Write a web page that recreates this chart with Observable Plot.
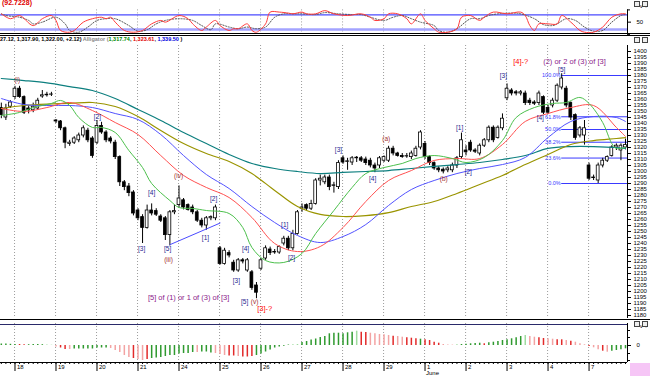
<!DOCTYPE html>
<html><head><meta charset="utf-8">
<script src="https://cdn.jsdelivr.net/npm/d3@7"></script>
<script src="https://cdn.jsdelivr.net/npm/@observablehq/plot@0.6"></script>
<style>
body{margin:0;background:#fff;font-family:"Liberation Sans",Arial,sans-serif}
#wrap{position:relative;width:650px;height:376px;overflow:hidden;background:#fff}
.pane{position:absolute;left:0}
.hl{position:absolute;left:0;width:650px;height:1px;background:#000}
.txt{position:absolute;white-space:nowrap}
.ico{position:absolute;width:4px;height:4px;border:1px solid #444;background:#eee}
</style></head><body><div id="wrap"></div>
<script>
// ---------- data ----------
const dayIdx = [3,12,21,30,39,48,57,66,75,84,93,102,111,120,129];
const dayLabels = ["18","19","20","21","24","25","26","27","28","29","1","2","3","4","7"];

const open = [1353,1345,1354,1362,1369,1362,1352.5,1351,1352.5,1362.5,
1363.5,1364,1342.5,1341.7,1336,1323,1324,1326,1330,1334,
1327.5,1324,1338,1332.5,1327.5,1324,1312,1291,1287.5,1282.5,
1267.5,1262,1253,1267.5,1267,1262.5,1261,1247,1266,1272,
1276,1272,1270,1266,1259,1255,1261,1261,1236,1223,
1232,1224,1217.5,1226,1217.5,1216,1205,1219,1227.5,1235,
1233,1232.5,1240,1244,1236,1248,1269,1272,1269,1273,
1292.5,1291,1295,1288,1287,1311,1308,1307.5,1311,1311,
1310,1309,1305,1305,1309,1309,1319,1315,1313,1312.5,
1312,1313,1320,1323,1312,1307,1302.5,1301.5,1301,1301,
1305,1312,1317.5,1324,1317.5,1315,1321.5,1326,1336.5,1328,
1336,1361,1367.5,1366,1365,1365,1359,1357.5,1357,1362,
1353,1355,1359,1370,1369,1357,1347,1330,1330,1305,
1295,1292.5,1305,1309,1313,1320,1317.5,1320];
const high = [1357,1356,1359,1371,1371,1363,1355,1357,1361,1367.5,
1366,1366,1343.3,1342.5,1337,1326,1329,1332,1338,1336,
1329,1342.5,1341,1334,1329,1326,1313,1292.5,1290,1284,
1269,1264,1272,1273,1269,1264,1262.5,1267.5,1272,1288,
1277.5,1273,1272,1267.5,1261,1262.5,1263,1272,1237.5,1236,
1234,1226,1227.5,1227.5,1227.5,1217.5,1207.5,1227.5,1238,1237,
1235,1238,1246,1246,1251,1267.5,1273,1273,1276,1294,
1297,1297,1297,1291,1309,1313,1311,1312.5,1312.5,1312.5,
1312,1311,1307,1312.5,1313,1321,1321,1316,1315,1315,
1317,1321,1334,1325,1313,1308,1304,1303,1304,1307,
1312.5,1332,1321.5,1326,1319,1323,1327.5,1338,1338,1338,
1348,1373,1369,1367.5,1367.5,1367,1361,1359,1367,1363,
1355,1361,1373,1381.5,1371,1358,1348,1337.5,1342.5,1307,
1297,1307,1311,1313,1321.5,1323,1323,1327];
const low = [1344,1342.5,1352.5,1360,1361,1347.5,1348,1349,1351,1361,
1362,1362.5,1340,1334,1319,1321,1322.5,1324,1328,1324,
1311,1322.5,1331,1324,1323,1310,1287.5,1284,1279,1263,
1259,1240,1252,1263,1262.5,1257.5,1242.5,1238,1264,1270,
1268,1267,1264,1257.5,1253,1251,1259,1259,1222,1222,
1228,1216,1216,1223,1216,1201,1194,1217.5,1226,1230,
1231,1231,1238,1234,1234,1247,1266,1267.5,1267.5,1272,
1288,1289,1284,1282,1285,1306,1301,1305,1307.5,1307.5,
1305,1303,1299,1302.5,1307.5,1307.5,1313,1312,1311,1311,
1310,1312,1318,1310,1305,1301,1299,1298,1299,1299,
1302.5,1310,1313,1316,1315,1313,1320,1324,1324,1327,
1334,1359,1363,1363,1363,1355,1355,1355,1355,1347.5,
1347.5,1353,1357.5,1368,1353,1342.5,1326,1328,1322,1292.5,
1292.5,1290,1303,1307.5,1312,1317.5,1309,1318];
const close = [1347,1352.5,1357.5,1369,1362,1349,1351,1354,1359,1363.5,
1364,1364.2,1341.7,1336,1324,1324,1327.5,1330,1336,1326,
1313,1338,1332.5,1326,1325,1312,1291,1287,1282,1265,
1261,1253,1267.5,1265,1264,1259,1247,1266,1267,1277.5,
1270,1268,1266,1259,1255,1261,1262,1270,1223,1234,
1230,1217.5,1226,1225,1226,1203,1199,1226,1236,1232,
1232.5,1237,1244,1236,1248,1266,1270,1269,1273,1292.5,
1294,1295,1287,1288.5,1307,1307.5,1308.5,1311,1311.5,1309,
1307,1305,1302.5,1311,1312,1319,1315,1313,1312,1312.8,
1315,1319,1332.5,1312,1307,1302.5,1301,1300,1302.5,1305,
1311,1326,1316,1317.5,1316.5,1321.5,1326,1336.5,1326,1336.5,
1344,1369,1365,1365,1366,1357,1357,1356.5,1365,1349,
1349,1359,1371.5,1377.5,1355,1345,1328,1336,1336,1294,
1294.5,1305,1309,1312,1320,1321.5,1321.5,1322];

// moving averages (sampled every 5 bars)
const maIdx = [0,5,10,15,20,25,30,35,40,45,50,55,60,65,70,75,80,85,90,95,100,105,110,115,120,125,130,135,137];
const maTeal = [1377.5,1375.8,1373.8,1370.8,1367.5,1360.8,1351.7,1342.5,1332.5,1323.3,1314.2,1306.7,1302.5,1300,1298.3,1299.2,1300,1300.8,1302.5,1304.2,1305.8,1307.5,1310,1313.3,1319.2,1320.8,1320.8,1320,1319.2];
const maOlive = [1352.5,1355,1356.2,1356.7,1357.5,1354.2,1345.8,1334.2,1323.3,1315,1308.3,1298.3,1284.2,1270.8,1264.2,1262.5,1263.3,1265.8,1270.8,1275,1281.7,1289.2,1296.7,1305.8,1314.2,1322.5,1325.8,1327.5,1328.3];
const maBlue = [1360.8,1355.8,1355,1355,1353.3,1348.3,1343.3,1330.8,1313.3,1297.5,1285.8,1270.8,1257.5,1246.7,1240.8,1245.8,1255.8,1271.7,1285,1292.5,1298.3,1302.5,1305.8,1311.7,1328.3,1341.7,1345.8,1345,1341.7];
const maRed = [1352.5,1350,1353.3,1357.5,1350.8,1340.8,1330.8,1313.3,1296.7,1286.7,1278.3,1261.7,1240,1233.3,1237.5,1253.3,1275,1292.5,1300.8,1309.2,1310.8,1310.8,1322.5,1341.7,1348.3,1353.3,1355,1336.7,1329.2];
const greenIdx = [0,4,7,11,13,15,17,20,22,25,28,31,33,37,39,42,45,50,53,55,58,62,66,69,73,77,80,84,88,91,95,99,102,106,110,113,117,121,124,127,129,132,134,135,137];
const maGreen = [1346.7,1349.2,1353.3,1356.7,1359.2,1355,1345,1336.7,1336.7,1332.5,1317.5,1303.3,1290,1275.8,1270,1269.2,1267.5,1265,1253.3,1236.7,1225.8,1224.2,1231.7,1248.3,1267.5,1286.7,1298.3,1303.3,1306.7,1310.8,1313.3,1310.8,1307.5,1311.7,1325.8,1345,1353.3,1356.7,1357.5,1361.7,1356.7,1340.8,1323.3,1319.2,1320];

// fibonacci retracement
const fibPct = ["100.0%","61.8%","50.0%","38.2%","23.6%","0.0%"];
const fibPrice = [1380,1345.6,1335,1324.4,1311.2,1290];
const fibStart = 123;

// trend line
const trendIdx = [37,48];
const trendPrice = [1239,1257];

// wave labels
const lblText = ["(i)","[2]","[3]","[4]","[5]","(iii)","(iv)","[1]","[2]","[3]","[4]","[5]","(v)","[1]","[2]","[3]","[4]","(a)","(b)","[1]","[2]","[3]","[5]","[4]"];
const lblIdx  = [3.5,21.1,30.8,33,36.5,36.7,38.9,44.8,46.6,51.6,53.6,53.4,55.6,62.2,63.7,74,81.5,84.5,97.1,100.6,102.5,110.2,123,118.3];
const lblPrice= [1376.7,1345.8,1235.8,1282.5,1235.8,1226.7,1296.7,1245,1277.5,1209.2,1235.8,1191.7,1191.7,1255.8,1228.3,1318.3,1294.2,1327.5,1294.2,1336.7,1300,1380,1384.3,1345];
const lblKind = ["minor","wave","wave","wave","wave","minor","minor","wave","wave","wave","wave","wave","minor","wave","wave","wave","wave","minor","minor","wave","wave","wave","wave","wave"];
const notes = [
  {t:"[3]-?", i:57.8, p:1185.8, k:"alt"},
  {t:"[5] of (1) or 1 of (3) of [3]", i:41.1, p:1195, k:"note"},
  {t:"[4]-?", i:114, p:1391.8, k:"alt"},
  {t:"(2) or 2 of (3) of [3]", i:125.8, p:1391.8, k:"note"}
];

// stochastic
const kIdx = [0,2,4,7,9,11,12,13,15,16,18,20,22,23,24,25,27,29,31,33,35,36,39,41,42,44,45,47,48,50,51,52,54,55,56,58,59,61,63,64,66,67,69,71,73,76,79,81,82,84,85,87,89,90,92,93,95,96,98,100,101,103,105,106,108,111,114,115,116,117,118,120,122,123,125,127,128,130,132,134,136,137];
const kVal = [84,64,77,36,64,77,57,16,9,16,50,64,70,64,70,50,16,9,16,43,57,50,77,64,43,16,30,57,36,16,23,23,43,16,9,43,91,91,87,84,91,84,84,97,84,77,84,70,57,64,84,84,64,43,84,57,23,9,9,23,70,77,57,70,91,84,91,77,36,16,43,43,43,77,50,16,9,9,30,70,84,84];
const dIdx = [0,1,4,6,7,9,12,14,15,17,19,21,23,25,28,30,32,34,36,39,42,44,46,47,50,52,54,56,58,60,62,64,66,69,71,74,77,79,81,84,86,88,90,92,95,96,98,100,103,105,107,109,112,114,117,119,121,122,124,126,128,130,132,134,136,137];
const dVal = [84,77,70,57,43,50,70,43,16,9,30,57,64,64,36,13,19,43,57,64,57,36,19,43,30,23,30,23,30,70,84,84,84,81,89,84,81,81,70,57,70,77,64,50,36,16,9,23,64,64,77,84,87,84,64,40,36,43,64,57,30,13,16,50,77,81];

// oscillator histogram
const aoVal = [1.5,1.5,1.2,1,1,0.8,0.8,1,1,0.8, 0.5,0.3,-1.5,-2.5,-4,-4,-3.5,-3.5,-3.5,-3.5,
-3.5,-2.5,-2.5,-2.5,-3,-5,-7,-10,-12,-13, -14,-15,-14,-13,-12.5,-12,-11,-10,-10,-8.5,
-8,-8,-7,-7,-6.5,-6.5,-7.5,-8,-9,-10, -10.5,-10.5,-11,-11.5,-11.5,-11,-10,-8.5,-6.5,-4.5,
-2.5,-1.5,-0.8,0.5,0.8,1,3,4,5.5,6.5, 8,9,
11.7,12.3,12.3,11.7,12.7,13.3,14.3,13.3,13,12.3, 11.7,11,10.7,10,9.3,9,8.3,7.7,7.3,6.7,
6.3,5.7,5,3.3,2.3,1,0.5,0.4,0.7,1, 1.3,1.7,2,2.3,1.7,2.7,3.3,4,5,5.7,
6.7,7.7,9,10,9,8.3,7.7,7,6.7,6.3, 5.7,5.7,5,4.3,3.3,1.7,0.7,-1,-2.3,-4.3,
-5.7,-6.7,-5.7,-5,-4.3,-3.3];
const aoTone = ("ggggrrggggGG"+"RrrR"+"gggggggg"+"RRRRR"+"rRRr"+"gggggggggg"+"R"+"ggg"+"RRR"+"rr"+"R"+"rrr"+
"gggggggg"+"GG"+"gggggggggggg"+"G"+"rr"+"RRRRR"+"r"+"RR"+"rrr"+"g"+"rrrr"+"RRR"+"G"+"ggggg"+"r"+"gggggggg"+"G"+
"RR"+"rr"+"RR"+"rr"+"R"+"r"+"RRR"+"r"+"RR"+"r"+"R"+"gggg").split("");

// ---------- build ----------
const xDom = [-0.18, 137.44];
const FONT = "Liberation Sans, Arial, sans-serif";
const bars = open.map((o,i)=>({i, o, h:high[i], l:low[i], c:close[i]}));
const ser = (idx, vals) => idx.map((i,k)=>({i, v:vals[k]}));
const toneColor = {g:"#2f9a2f", r:"#e22a2a", G:"#9fdc9f", R:"#f3a3a3"};
const kindColor = {wave:"#1c1c8e", minor:"#a33030", alt:"#ff0000", note:"#8a1a8a"};
const grid = () => Plot.ruleX(dayIdx, {x:d=>d-0.1, stroke:"#9c9c9c", strokeDasharray:"1,2", strokeWidth:1});
const tickMarks = (vals) => Plot.ruleY(vals, {x1:xDom[1], x2:xDom[1]+0.66, stroke:"#000", strokeWidth:1});
const common = {width:650, marginLeft:0, marginRight:23, x:{domain:xDom, axis:null},
  style:{background:"transparent", fontFamily:FONT, fontSize:"6px", color:"#000", overflow:"visible"}};

const wrap = document.getElementById("wrap");
function place(el, top){ const d=document.createElement("div"); d.className="pane"; d.style.top=top+"px"; d.appendChild(el); wrap.appendChild(d); }
function addTxt(html, left, top, css){ const d=document.createElement("div"); d.className="txt"; d.style.left=left+"px"; d.style.top=top+"px"; d.style.cssText+=css||""; d.innerHTML=html; wrap.appendChild(d); }
function addIcon(left, top){ const d=document.createElement("div"); d.className="ico"; d.style.left=left+"px"; d.style.top=top+"px"; wrap.appendChild(d); }

// top stochastic pane
const stoch = Plot.plot({...common, height:34, marginTop:9.4, marginBottom:0.1,
  y:{domain:[0,100], axis:null},
  marks:[
    grid(),
    Plot.ruleY([20], {stroke:"#a3a3ff", strokeWidth:2.5}),
    Plot.ruleY([80], {stroke:"#4b4bff", strokeWidth:1.2}),
    Plot.line(ser(dIdx,dVal), {x:"i", y:"v", stroke:"#555", strokeWidth:1, strokeDasharray:"1.2,1.6", curve:"catmull-rom"}),
    Plot.line(ser(kIdx,kVal), {x:"i", y:"v", stroke:"#ff3b3b", strokeWidth:1, curve:"catmull-rom"}),
    Plot.ruleX([xDom[1]], {stroke:"#000"}),
    tickMarks([0,100]),
    Plot.axisY([50], {anchor:"right", tickSize:3, tickPadding:6, fontSize:6, tickFormat:d=>String(d)})
  ]});
place(stoch, 0);

// price pane
const fibs = fibPct.map((t,k)=>({t, p:fibPrice[k]}));
const price = Plot.plot({...common, height:283, marginTop:10, marginBottom:0,
  y:{domain:[1177.5,1405], axis:null},
  marks:[
    grid(),
    Plot.ruleY(fibs, {y:"p", x1:fibStart, x2:xDom[1], stroke:"#3a3aff", strokeWidth:1,
      strokeDasharray:d=>(d.t==="100.0%"||d.t==="0.0%")?null:"2,2"}),
    Plot.text(fibs, {x:fibStart, y:"p", text:"t", textAnchor:"end", dx:-1, fill:"#3a3aff", fontSize:5.5}),
    Plot.ruleX(bars, {x:"i", y1:"l", y2:"h", stroke:"#000", strokeWidth:1}),
    Plot.rect(bars, {x1:d=>d.i-0.31, x2:d=>d.i+0.31, y1:"o", y2:"c",
      fill:d=>d.c>=d.o?"#fff":"#000", stroke:"#000", strokeWidth:0.8}),
    Plot.line(ser(maIdx,maTeal), {x:"i", y:"v", stroke:"#0d7f7f", strokeWidth:1.2, curve:"catmull-rom"}),
    Plot.line(ser(maIdx,maOlive), {x:"i", y:"v", stroke:"#9a9400", strokeWidth:1.2, curve:"catmull-rom"}),
    Plot.line(ser(maIdx,maBlue), {x:"i", y:"v", stroke:"#5353ff", strokeWidth:1, curve:"catmull-rom"}),
    Plot.line(ser(maIdx,maRed), {x:"i", y:"v", stroke:"#ff5050", strokeWidth:1, curve:"catmull-rom"}),
    Plot.line(ser(greenIdx,maGreen), {x:"i", y:"v", stroke:"#4cc04c", strokeWidth:1, curve:"catmull-rom"}),
    Plot.line(ser(trendIdx,trendPrice), {x:"i", y:"v", stroke:"#4b4bff", strokeWidth:1}),
    Plot.text(lblText.map((t,k)=>({t, i:lblIdx[k], p:lblPrice[k], k:lblKind[k]})),
      {x:"i", y:"p", text:"t", fill:d=>kindColor[d.k], fontSize:6.5}),
    Plot.text(notes, {x:"i", y:"p", text:"t", fill:d=>kindColor[d.k], fontSize:7.5}),
    Plot.ruleX([xDom[1]], {stroke:"#000"}),
    Plot.axisY(d3.range(1180,1401,5), {anchor:"right", tickSize:3, tickPadding:3, fontSize:6, tickFormat:d=>String(d)})
  ]});
place(price, 35);

// oscillator pane + date axis
const ao = aoVal.map((v,i)=>({i, v, t:aoTone[i]}));
const dayLabelOf = new Map(dayIdx.map((d,k)=>[d, dayLabels[k]]));
const osc = Plot.plot({...common, height:56, marginTop:3, marginBottom:14,
  y:{domain:[-17,22], axis:null},
  marks:[
    grid(),
    Plot.ruleX(ao, {x:"i", y1:0, y2:"v", stroke:d=>toneColor[d.t], strokeWidth:1.5}),
    Plot.ruleX([xDom[1]], {stroke:"#000"}),
    Plot.ruleY([-17], {stroke:"#000"}),
    tickMarks([-15,-8,8,15]),
    Plot.axisY([0], {anchor:"right", tickSize:3, tickPadding:6, fontSize:6, tickFormat:d=>String(d)}),
    Plot.axisX(d3.range(0,138), {tickSize:2, tickFormat:()=>""}),
    Plot.axisX(dayIdx, {tickSize:9, tickFormat:()=>""}),
    Plot.text(dayIdx, {x:d=>d, text:d=>dayLabelOf.get(d), frameAnchor:"bottom", dy:6, dx:2, textAnchor:"start", fontSize:6}),
    Plot.text(["June"], {x:93, frameAnchor:"bottom", dy:12, dx:1, textAnchor:"start", fontSize:6})
  ]});
place(osc, 320);

// decorations & header texts
[33,35,319].forEach(y=>{const d=document.createElement("div"); d.className="hl"; d.style.top=y+"px"; wrap.appendChild(d);});
{const d=document.createElement("div"); d.className="hl"; d.style.top="324px"; d.style.width="627px"; d.style.background="#2a2a6a"; wrap.appendChild(d);}
addTxt("(92.7228)", 2, -1, "font:bold 7px "+FONT+";color:#e00000");
addTxt('<span style="color:#000">27.12, 1,317.90, 1,322.00, +2.12)</span> <span style="color:#888">Alligator (</span><span style="color:#008800">1,317.74</span>, <span style="color:#e00000">1,323.61</span>, <span style="color:#0000dd">1,339.50</span> )',
  0, 36, "font:bold 5.5px "+FONT+";color:#000");
[1,37,321].forEach(y=>{ addIcon(634, y); addIcon(642, y); });
addTxt("", 630, 363, "width:20px;height:13px;background:#f6c6f6");
</script></body></html>
